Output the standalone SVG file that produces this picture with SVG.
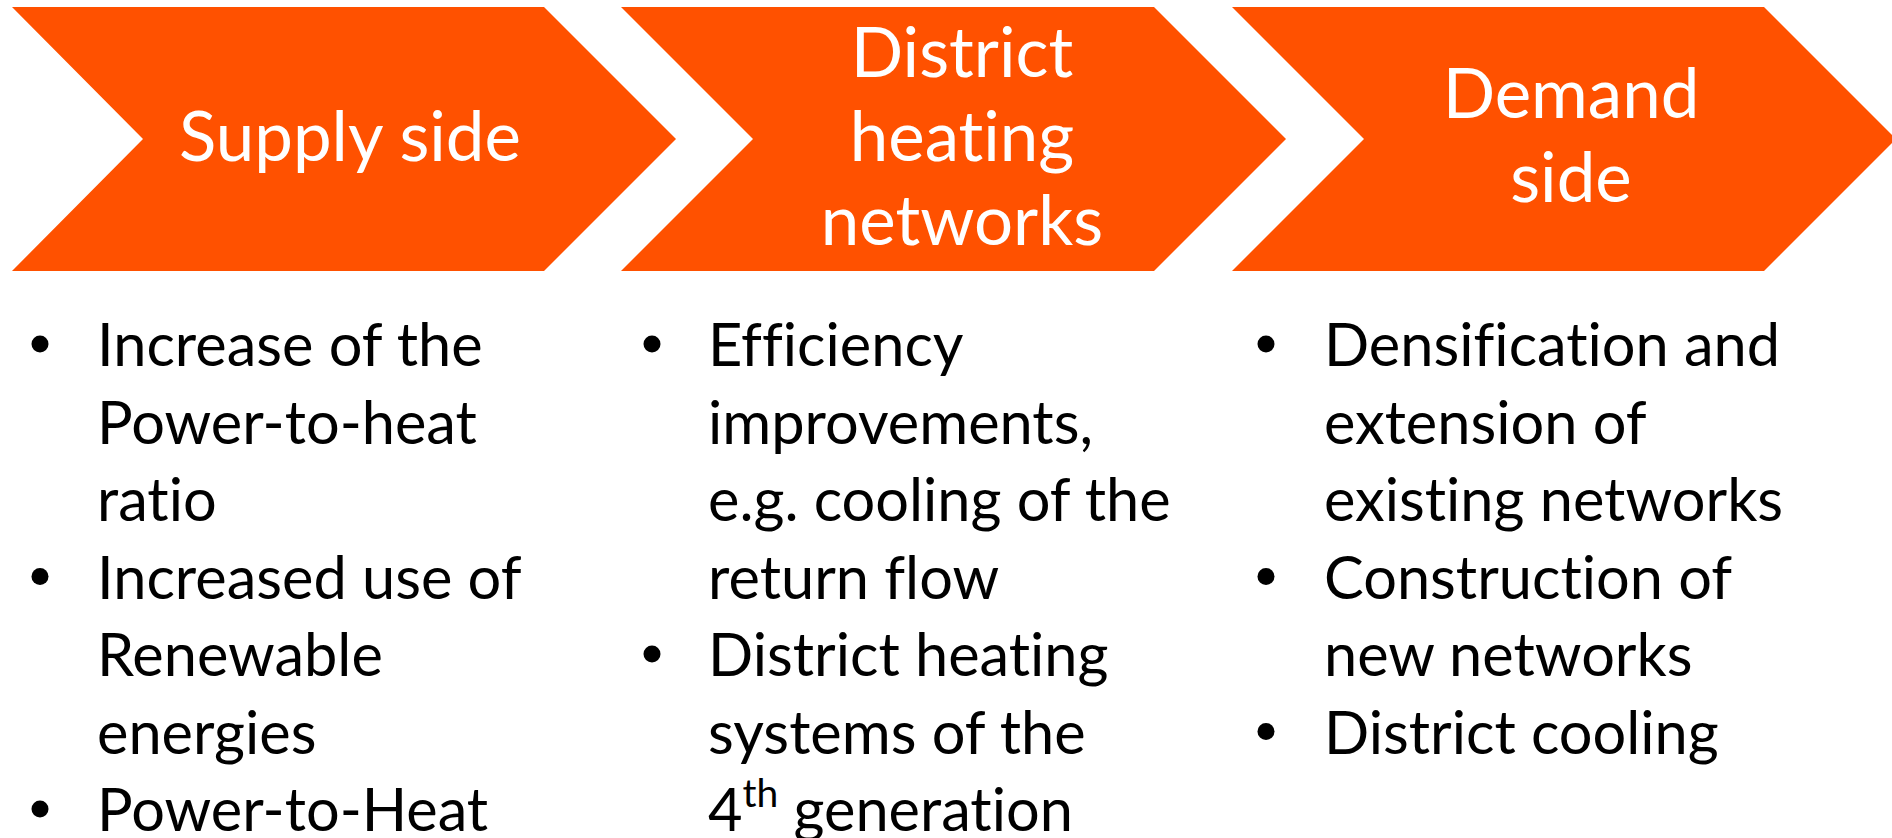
<svg xmlns="http://www.w3.org/2000/svg" width="1892" height="838" viewBox="0 0 1892 838">
  <style>
    .chev { fill: #FF5100; }
    text { font-variant-ligatures: none; font-feature-settings: "liga" 0, "clig" 0, "dlig" 0; }
    .title { font-family: Lato, "Liberation Sans", sans-serif; font-size: 69px; fill: #FFFFFF; text-anchor: middle; }
    .body { font-family: Lato, "Liberation Sans", sans-serif; font-size: 59.5px; fill: #000000; }
    .dot { fill: #000000; }
  </style>
  <rect x="0" y="0" width="1892" height="838" fill="#FFFFFF"/>
  <g id="connectors"></g>
  <g id="supply-side">
    <polygon class="chev" points="12,7 544,7 676,139 544,271 12,271 143,139"/>
    <text class="title" x="350" y="161">Supply side</text>
  </g>
  <g id="district-heating-networks">
    <polygon class="chev" points="621,7 1154,7 1286,139 1154,271 621,271 753,139"/>
    <text class="title" x="962" y="77">District</text>
    <text class="title" x="962" y="161">heating</text>
    <text class="title" x="962" y="245">networks</text>
  </g>
  <g id="demand-side">
    <polygon class="chev" points="1232,7 1764,7 1896,139 1764,271 1232,271 1364,139"/>
    <text class="title" x="1571" y="118">Demand</text>
    <text class="title" x="1571" y="202">side</text>
  </g>
  <g id="supply-list">
    <circle class="dot" cx="40" cy="344" r="8.5"/>
    <circle class="dot" cx="40" cy="576.5" r="8.5"/>
    <circle class="dot" cx="40" cy="809" r="8.5"/>
    <text class="body" x="97" y="366">Increase of the</text>
    <text class="body" x="97" y="443.5">Power-to-heat</text>
    <text class="body" x="97" y="521">ratio</text>
    <text class="body" x="97" y="598.5">Increased use of</text>
    <text class="body" x="97" y="676">Renewable</text>
    <text class="body" x="97" y="753.5">energies</text>
    <text class="body" x="97" y="831">Power-to-Heat</text>
  </g>
  <g id="network-list">
    <circle class="dot" cx="652" cy="344" r="8.5"/>
    <circle class="dot" cx="652" cy="654" r="8.5"/>
    <text class="body" x="708" y="366">Efficiency</text>
    <text class="body" x="708" y="443.5">improvements,</text>
    <text class="body" x="708" y="521">e.g. cooling of the</text>
    <text class="body" x="708" y="598.5">return flow</text>
    <text class="body" x="708" y="676">District heating</text>
    <text class="body" x="708" y="753.5">systems of the</text>
    <text class="body" x="708" y="831">4<tspan font-size="39px" dy="-24">th</tspan><tspan dy="24"> generation</tspan></text>
  </g>
  <g id="demand-list">
    <circle class="dot" cx="1266" cy="344" r="8.5"/>
    <circle class="dot" cx="1266" cy="576.5" r="8.5"/>
    <circle class="dot" cx="1266" cy="731.5" r="8.5"/>
    <text class="body" x="1324" y="366">Densification and</text>
    <text class="body" x="1324" y="443.5">extension of</text>
    <text class="body" x="1324" y="521">existing networks</text>
    <text class="body" x="1324" y="598.5">Construction of</text>
    <text class="body" x="1324" y="676">new networks</text>
    <text class="body" x="1324" y="753.5">District cooling</text>
  </g>
</svg>
